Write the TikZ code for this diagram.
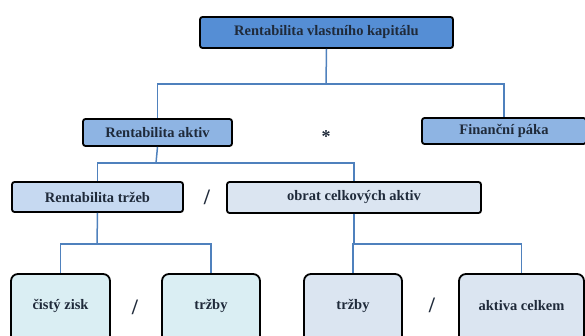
\documentclass[tikz,border=0pt]{standalone}
\usepackage{fontspec}
\setmainfont{Liberation Serif}[BoldFont={Liberation Serif Bold}]
\definecolor{lvA}{HTML}{558ED5}
\definecolor{lvB}{HTML}{8EB4E3}
\definecolor{lvC}{HTML}{C6D9F1}
\definecolor{lvD}{HTML}{DBE5F1}
\definecolor{lvE}{HTML}{DAEEF3}
\definecolor{conn}{HTML}{4F81BD}
\definecolor{txt}{HTML}{1F2A3A}
\begin{document}
\begin{tikzpicture}[x=1pt,y=-1pt,
  box/.style={draw=black,line width=1.8pt,rounded corners=2.5pt,inner sep=0pt,
    font=\fontsize{14.5}{16}\selectfont\bfseries,text=txt},
  leaf/.style={box,rounded corners=7pt},
  lbl/.style={font=\fontsize{14.5}{16}\selectfont\bfseries,text=txt},
  wire/.style={draw=conn,line width=1.5pt},
  op/.style={font=\fontsize{22}{24}\selectfont\bfseries,text=txt}]
\useasboundingbox (0,0) rectangle (585,336);
\begin{scope}
\clip (0,0) rectangle (585,336);
\node[box,fill=lvA,minimum width=253pt,minimum height=31pt] (rvk) at (326.5,32.5) {Rentabilita vlastního kapitálu};
\node[box,fill=lvB,minimum width=149pt,minimum height=27pt] (ra) at (157.5,132.5) {Rentabilita aktiv};
\node[box,fill=lvB,minimum width=164pt,minimum height=26pt] (fp) at (504,131) {Finanční páka};
\node[box,fill=lvC,minimum width=171pt,minimum height=30pt] (rt) at (97.5,197) {Rentabilita tržeb};
\node[box,fill=lvD,minimum width=254pt,minimum height=31pt] (oca) at (354,197.5) {obrat celkových aktiv};
\node[leaf,fill=lvE,minimum width=99pt,minimum height=80pt] (cz) at (60.5,314) {};
\node[leaf,fill=lvE,minimum width=98pt,minimum height=80pt] (tr1) at (211,314) {};
\node[leaf,fill=lvD,minimum width=98pt,minimum height=80pt] (tr2) at (353,314) {};
\node[leaf,fill=lvD,minimum width=125pt,minimum height=80pt] (ac) at (521.5,314) {};
\node[lbl] (czt) at (60.5,306) {čistý zisk};
\node[lbl] (tr1t) at (211,306) {tržby};
\node[lbl] (tr2t) at (353,306) {tržby};
\node[lbl] (act) at (521.5,306) {aktiva celkem};
\node[font=\fontsize{18}{20}\selectfont\bfseries,text=txt] (star) at (326,137) {*};
\node[op] (s1) at (207,197) {/};
\node[op] (s2) at (135,307) {/};
\node[op] (s3) at (432,305) {/};
\coordinate (j1) at (326,84);
\coordinate (j2) at (156,163);
\coordinate (j3) at (97,244);
\coordinate (j4) at (354,244);
\draw[wire] (rvk.south) -- (j1);
\draw[wire] (j1) -| (ra.north);
\draw[wire] (j1) -| (fp.north);
\draw[wire] (ra.south) -- (j2);
\draw[wire] (j2) -| (rt.north);
\draw[wire] (j2) -| (oca.north);
\draw[wire] (rt.south) -- (j3);
\draw[wire] (j3) -| (cz.north);
\draw[wire] (j3) -| (tr1.north);
\draw[wire] (oca.south) -- (j4);
\draw[wire] (j4) -| (tr2.north);
\draw[wire] (j4) -| (ac.north);
\end{scope}
\end{tikzpicture}
\end{document}
